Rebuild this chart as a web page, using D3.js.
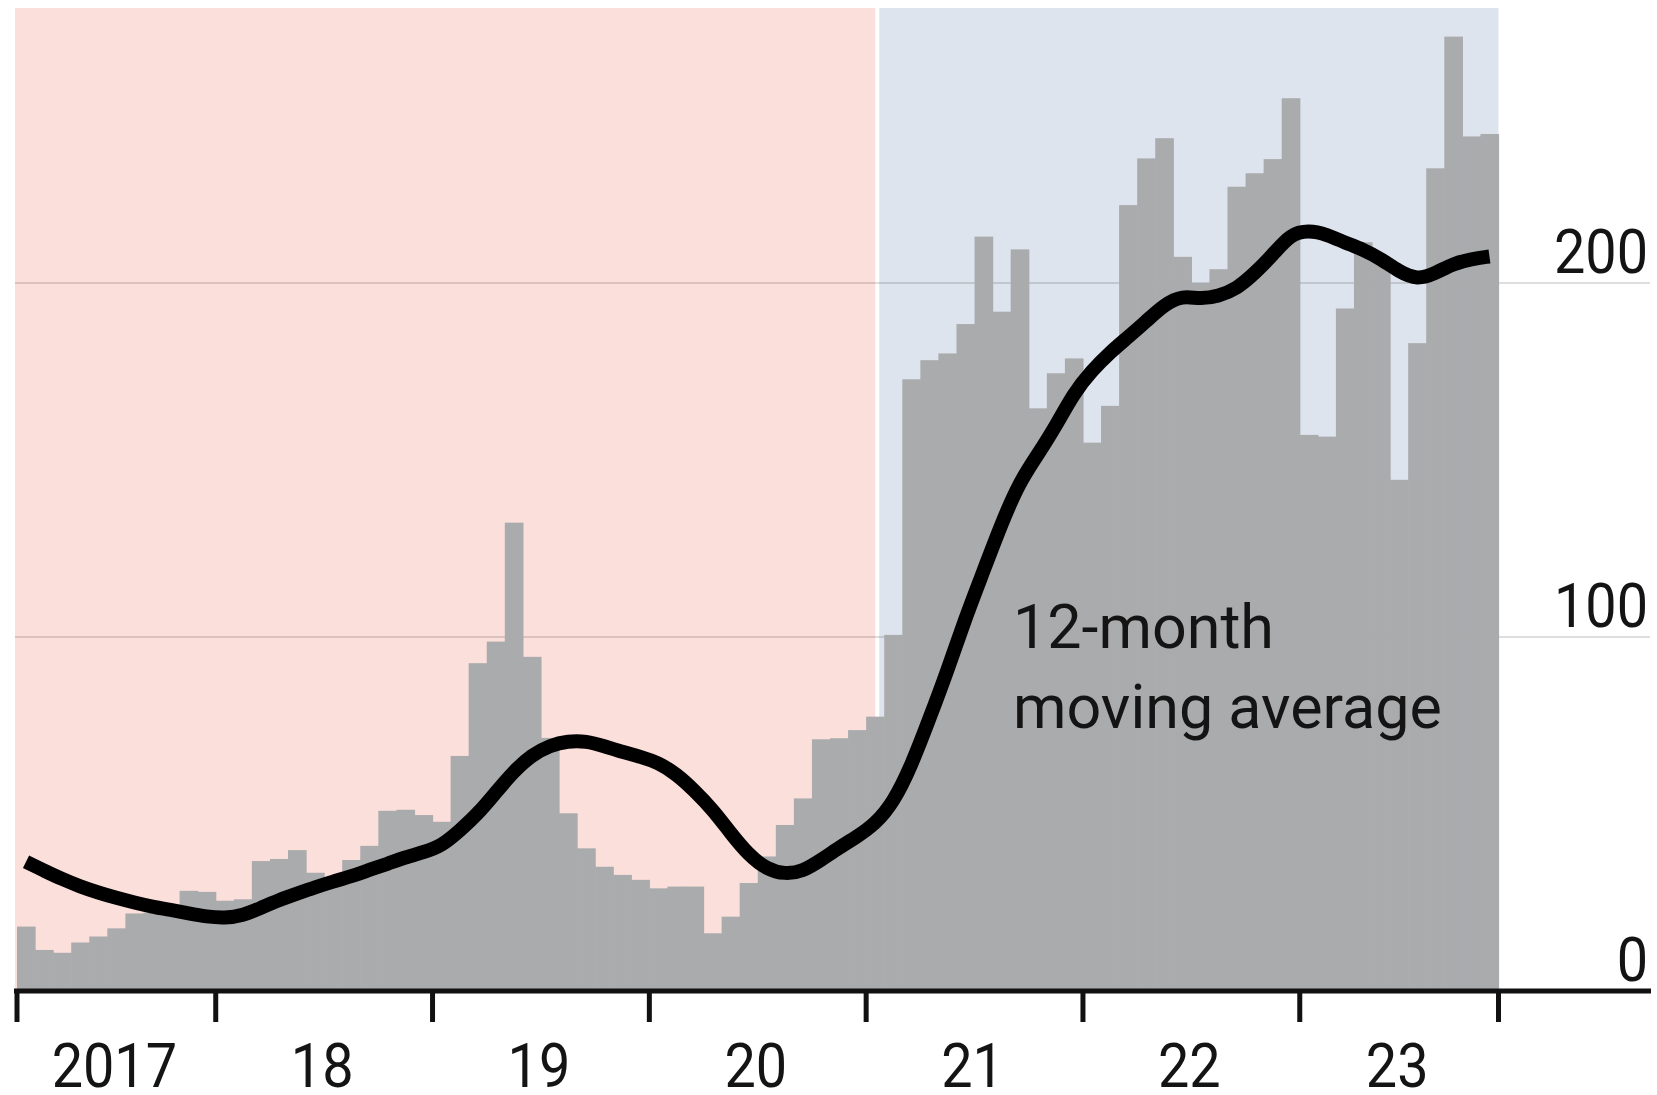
<!DOCTYPE html>
<html>
<head>
<meta charset="utf-8">
<script src="https://cdn.jsdelivr.net/npm/d3@7"></script>
<style>
  html, body { margin: 0; padding: 0; background: #ffffff; }
  svg { display: block; }
  text { font-family: Roboto, "Open Sans", sans-serif; fill: #141414; }
</style>
</head>
<body>
<svg id="chart" width="1657" height="1095"></svg>
<script>
// ---- Data (thousands, monthly, Feb 2017 – Nov 2023) ----
const months = d3.timeMonths(new Date(2017, 1, 1), new Date(2023, 11, 1)).map(d3.timeFormat("%Y-%m"));

const encounters = [
  18.2, 11.6, 10.8, 13.7, 15.4, 17.7, 21.9, 22.1, 23.0, 28.3, 28.0,
  25.5, 25.9, 36.7, 37.3, 39.8, 33.4, 31.8, 37.0, 41.0, 50.9, 51.2, 49.7,
  47.8, 66.4, 92.6, 98.7, 132.3, 94.4, 71.5, 50.2, 40.3, 35.1, 32.8, 31.4,
  29.0, 29.5, 29.5, 16.3, 21.0, 30.5, 38.0, 46.9, 54.4, 71.1, 71.4, 73.7,
  77.5, 100.6, 172.8, 178.2, 180.1, 188.4, 213.1, 191.9, 209.5, 164.6, 174.5, 178.7,
  154.9, 165.3, 222.0, 235.2, 240.9, 207.4, 200.0, 203.9, 227.2, 231.0, 235.0, 252.2,
  157.1, 156.6, 192.8, 211.5, 207.0, 144.4, 183.0, 232.4, 269.6, 241.4, 242.1
];

const movingAverage = [
  36.5, 34.0, 31.6, 29.5, 27.8, 26.3, 25.0, 23.8, 22.9, 21.9, 21.0,
  20.6, 21.3, 23.5, 25.7, 27.5, 29.3, 30.9, 32.4, 34.2, 35.9, 37.8, 39.2,
  41.0, 45.3, 50.0, 56.1, 62.1, 66.7, 69.4, 70.6, 70.6, 69.2, 67.5, 66.2,
  64.5, 61.3, 56.6, 51.3, 44.6, 38.4, 34.4, 33.0, 33.8, 37.0, 40.5, 43.6,
  47.2, 53.2, 63.6, 76.9, 90.5, 105.5, 118.7, 132.2, 143.9, 151.5, 159.6, 169.0,
  175.3, 180.4, 184.7, 189.2, 193.9, 196.5, 195.4, 196.3, 198.3, 202.7, 207.9, 213.9,
  214.9, 213.7, 211.4, 209.5, 206.8, 203.2, 200.9, 202.7, 205.5, 206.8, 207.5
];

const yearLabels = ["2017", "18", "19", "20", "21", "22", "23"];
const yTicks = [0, 100, 200];
const handoverMonth = "2021-01";   // change of administration, 20th January 2021
const handoverDay = 20;
const lineLabel = ["12-month", "moving average"];

// ---- Layout ----
const svg = d3.select("#chart");
const plotLeft = 17, plotRight = 1498.5;
const yZero = 991, yTwoHundred = 283;
const yMaxValue = 277.7;

const x = d3.scaleBand().domain(months).range([plotLeft, plotRight]).padding(0);
const bw = x.bandwidth();
const y = d3.scaleLinear().domain([0, 200]).range([yZero, yTwoHundred]);

const topY = y(yMaxValue);
const splitX = x(handoverMonth) + bw * (handoverDay - 1) / 31;

// Backgrounds
svg.append("rect")
  .attr("x", plotLeft - 2).attr("y", topY)
  .attr("width", splitX - (plotLeft - 2)).attr("height", yZero - topY)
  .attr("fill", "#fbdfdb");
svg.append("rect")
  .attr("x", splitX).attr("y", topY)
  .attr("width", plotRight - splitX).attr("height", yZero - topY)
  .attr("fill", "#dee4ee");
svg.append("line")
  .attr("x1", splitX).attr("x2", splitX)
  .attr("y1", topY).attr("y2", yZero)
  .attr("stroke", "#ffffff").attr("stroke-width", 4);

// Gridlines
svg.append("g").selectAll("line")
  .data(yTicks.filter(d => d > 0))
  .join("line")
  .attr("x1", plotLeft - 2).attr("x2", 1650)
  .attr("y1", d => y(d)).attr("y2", d => y(d))
  .attr("stroke", "rgba(0,0,0,0.13)").attr("stroke-width", 2);

// Bars
svg.append("g").selectAll("rect")
  .data(encounters)
  .join("rect")
  .attr("x", (d, i) => x(months[i]))
  .attr("width", bw + 0.6)
  .attr("y", d => y(d))
  .attr("height", d => yZero - y(d))
  .attr("fill", "#aaabad");

// Moving average line
const line = d3.line()
  .x((d, i) => x(months[i]) + bw / 2)
  .y(d => y(d))
  .curve(d3.curveBasis);
svg.append("path")
  .datum(movingAverage)
  .attr("d", line)
  .attr("fill", "none")
  .attr("stroke", "#000000")
  .attr("stroke-width", 14)
  .attr("stroke-linejoin", "round")
  .attr("stroke-linecap", "butt");

// X axis
svg.append("line")
  .attr("x1", 14).attr("x2", 1651)
  .attr("y1", yZero).attr("y2", yZero)
  .attr("stroke", "#111").attr("stroke-width", 5);

const boundaries = [plotLeft]
  .concat(months.filter(m => m.endsWith("-01")).map(m => x(m)))
  .concat([plotRight]);

svg.append("g").selectAll("line")
  .data(boundaries)
  .join("line")
  .attr("x1", d => d).attr("x2", d => d)
  .attr("y1", yZero).attr("y2", yZero + 31)
  .attr("stroke", "#111").attr("stroke-width", 5);

// Tall, slightly narrow figures like the original typeface
const labelSize = 62, labelSqueeze = 0.9;

svg.append("g").selectAll("text")
  .data(yearLabels)
  .join("text")
  .attr("transform", (d, i) => `translate(${(boundaries[i] + boundaries[i + 1]) / 2 - 2},1087) scale(${labelSqueeze},1)`)
  .attr("text-anchor", "middle")
  .attr("font-size", labelSize)
  .text(d => d);

// Y axis labels (right)
svg.append("g").selectAll("text")
  .data(yTicks)
  .join("text")
  .attr("transform", d => `translate(1648,${y(d) - 10}) scale(${labelSqueeze},1)`)
  .attr("text-anchor", "end")
  .attr("font-size", labelSize)
  .text(d => d);

// Line label
svg.append("text")
  .attr("x", 1013)
  .attr("y", 648)
  .attr("font-size", 61)
  .selectAll("tspan")
  .data(lineLabel)
  .join("tspan")
  .attr("x", 1013)
  .attr("dy", (d, i) => i === 0 ? 0 : 80)
  .text(d => d);
</script>
</body>
</html>
